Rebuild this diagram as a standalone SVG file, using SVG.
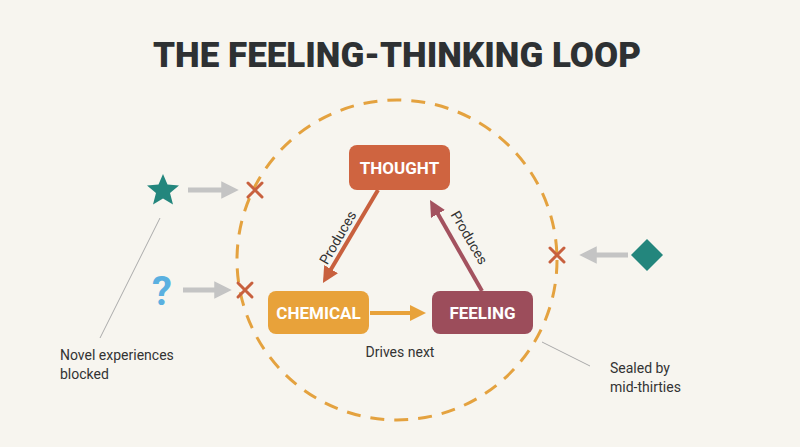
<svg xmlns="http://www.w3.org/2000/svg" width="800" height="447" viewBox="0 0 800 447">
<style>
.n{font-family:Roboto,"Liberation Sans",sans-serif;font-weight:bold;font-size:17px;fill:#fff;text-anchor:middle}
.l{font-family:Roboto,"Liberation Sans",sans-serif;font-size:14px;fill:#333}
.x{stroke:#c8603e;stroke-width:3;stroke-linecap:round}
.g{stroke:#c4c4c4;stroke-width:5}
</style>
<defs>
<marker id="ag" viewBox="0 0 10 10" refX="5" refY="5" markerWidth="3.5" markerHeight="3.5" orient="auto"><path d="M0,0L10,5L0,10z" fill="#c4c4c4"/></marker>
<marker id="ao" viewBox="0 0 10 10" refX="5" refY="5" markerWidth="4" markerHeight="4" orient="auto"><path d="M0,0L10,5L0,10z" fill="#c8603e"/></marker>
<marker id="ay" viewBox="0 0 10 10" refX="5" refY="5" markerWidth="4" markerHeight="4" orient="auto"><path d="M0,0L10,5L0,10z" fill="#e8a23a"/></marker>
<marker id="ar" viewBox="0 0 10 10" refX="5" refY="5" markerWidth="4" markerHeight="4" orient="auto"><path d="M0,0L10,5L0,10z" fill="#a3525f"/></marker>
</defs>
<rect width="800" height="447" fill="#f7f5ef"/>
<text x="397" y="67" text-anchor="middle" font-family="Roboto,'Liberation Sans',sans-serif" font-weight="900" font-size="35" fill="#2e3133">THE FEELING-THINKING LOOP</text>
<circle cx="397" cy="260" r="160" fill="none" stroke="#e4a23f" stroke-width="3" stroke-dasharray="14 10"/>
<g id="connectors">
<line x1="378" y1="190" x2="327" y2="276" stroke="#c8603e" stroke-width="4" marker-end="url(#ao)"/>
<line x1="482" y1="291" x2="434" y2="207" stroke="#a3525f" stroke-width="4" marker-end="url(#ar)"/>
<line x1="370" y1="313" x2="418" y2="313" stroke="#e8a23a" stroke-width="4" marker-end="url(#ay)"/>
<line class="g" x1="188" y1="190" x2="230" y2="190" marker-end="url(#ag)"/>
<line class="g" x1="183" y1="290" x2="223" y2="290" marker-end="url(#ag)"/>
<line class="g" x1="628" y1="255" x2="588" y2="255" marker-end="url(#ag)"/>
<line x1="160" y1="218" x2="100" y2="338" stroke="#aaa" stroke-width="1"/>
<line x1="542" y1="342" x2="590" y2="366" stroke="#aaa" stroke-width="1"/>
</g>
<text class="l" transform="translate(342,240) rotate(-60)" text-anchor="middle">Produces</text>
<text class="l" transform="translate(465,240) rotate(60)" text-anchor="middle">Produces</text>
<text class="l" x="400" y="357" text-anchor="middle">Drives next</text>
<g id="thought"><rect x="349" y="145" width="101" height="45" rx="8" fill="#cf6440"/><text class="n" x="399.5" y="174">THOUGHT</text></g>
<g id="chemical"><rect x="268" y="291" width="101" height="43" rx="8" fill="#e8a23a"/><text class="n" x="318.5" y="319">CHEMICAL</text></g>
<g id="feeling"><rect x="432" y="291" width="101" height="43" rx="8" fill="#9c4d5b"/><text class="n" x="482.5" y="319">FEELING</text></g>
<g id="star"><path d="M163,174 L167.5,184.5 L179,185.5 L170,193 L173,204.5 L163,198.5 L153,204.5 L156,193 L147,185.5 L158.5,184.5Z" fill="#23867d"/></g>
<g id="question"><text x="162" y="305" text-anchor="middle" font-family="Roboto,'Liberation Sans',sans-serif" font-weight="bold" font-size="40" fill="#5ab0e0">?</text></g>
<g id="diamond"><path d="M647,239 L663,255 L647,271 L631,255Z" fill="#23867d"/></g>
<g id="xs">
<path class="x" d="M248,183l14,14M262,183l-14,14"/>
<path class="x" d="M238,283l14,14M252,283l-14,14"/>
<path class="x" d="M550,248l14,14M564,248l-14,14"/>
</g>
<text class="l" x="60" y="360">Novel experiences</text>
<text class="l" x="60" y="379">blocked</text>
<text class="l" x="610" y="373">Sealed by</text>
<text class="l" x="610" y="392">mid-thirties</text>
</svg>
